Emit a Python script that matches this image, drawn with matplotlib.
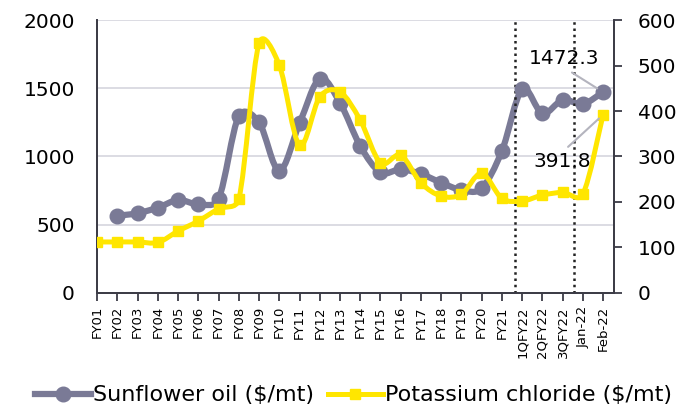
import numpy as np
import matplotlib.pyplot as plt
from matplotlib.path import Path
from matplotlib.patches import PathPatch
from matplotlib.lines import Line2D

plt.rcParams['font.family'] = ['DejaVu Sans']

# data
labels = ["FY01", "FY02", "FY03", "FY04", "FY05", "FY06", "FY07", "FY08", "FY09", "FY10",
          "FY11", "FY12", "FY13", "FY14", "FY15", "FY16", "FY17", "FY18", "FY19", "FY20",
          "FY21", "1QFY22", "2QFY22", "3QFY22", "Jan-22", "Feb-22"]
sunflower = [np.nan, 566, 584, 625, 681, 650, 689, 1297, 1250, 896,
             1243, 1570, 1394, 1077, 884, 906, 872, 808, 755, 767,
             1040, 1492, 1316, 1414, 1385, 1472.3]
potash = [112, 112, 112, 111, 136, 158, 185, 206, 549, 501,
          325, 431, 442, 380, 286, 303, 242, 213, 217, 263,
          208, 202, 215, 221, 217, 391.8]

GRAY = "#7a7a96"
YELLOW = "#ffe600"


def smooth_patch(x, y, color, lw, ax):
    # smoothed line drawn as a cubic bezier path through the data points
    # (catmull-rom style, control arms capped at half the segment, in pixels)
    pts = ax.transData.transform(np.column_stack([x, y]))
    n = len(pts)
    verts = [pts[0]]
    codes = [Path.MOVETO]
    for i in range(n - 1):
        p0 = pts[i - 1] if i > 0 else pts[i]
        p1 = pts[i]
        p2 = pts[i + 1]
        p3 = pts[i + 2] if i + 2 < n else pts[i + 1]
        seg = np.hypot(*(p2 - p1))
        d02 = np.hypot(*(p2 - p0))
        d13 = np.hypot(*(p3 - p1))
        f1 = min(1 / 6, 0.5 * seg / d02) if d02 > 0 else 0
        f2 = min(1 / 6, 0.5 * seg / d13) if d13 > 0 else 0
        verts += [p1 + (p2 - p0) * f1, p2 - (p3 - p1) * f2, p2]
        codes += [Path.CURVE4] * 3
    verts = ax.transData.inverted().transform(np.array(verts))
    patch = PathPatch(Path(verts, codes), facecolor="none", edgecolor=color,
                      lw=lw, capstyle="round", joinstyle="round")
    ax.add_patch(patch)


fig = plt.figure(figsize=(6.94, 4.19), dpi=100)
ax = fig.add_axes([0.14, 0.301, 0.745, 0.651])
ax2 = ax.twinx()

x = np.arange(len(labels))
sf = np.array(sunflower, float)
ok = ~np.isnan(sf)

ax.set_xlim(0, 25.55)
ax.set_ylim(0, 2000)
ax2.set_ylim(0, 600)

smooth_patch(x[ok], sf[ok], GRAY, 4.5, ax)
ax.plot(x[ok], sf[ok], "o", color=GRAY, ms=10.5, zorder=3)

smooth_patch(x, potash, YELLOW, 3.6, ax2)
ax2.plot(x, potash, "s", color=YELLOW, ms=6.5, zorder=3)

ax.set_yticks([0, 500, 1000, 1500, 2000])
ax2.set_yticks([0, 100, 200, 300, 400, 500, 600])
ax.set_xticks(x)
ax.set_xticklabels(labels, rotation=90, fontsize=9.5)

ax.grid(axis="y", color="#d9d9e1", lw=1.3)
ax.set_axisbelow(True)

for a in (ax, ax2):
    a.spines["top"].set_visible(False)
    for s in ("left", "right", "bottom"):
        a.spines[s].set_color("#3c3c46")
        a.spines[s].set_linewidth(1.3)
    a.tick_params(axis="y", labelsize=14.5, color="#3c3c46", width=1.3, length=6)
    a.tick_params(axis="x", color="#3c3c46", width=1.3, length=6)
ax.tick_params(axis="y", length=0, pad=16)
ax2.tick_params(axis="y", pad=11)

# period separators
for xv in (20.65, 23.57):
    ax.axvline(xv, color="#222222", ls=(0, (1, 1.5)), lw=1.8)

# end value labels
ax.annotate(f"{sunflower[-1]:.1f}", xy=(x[-1], sunflower[-1]), xytext=(23.07, 1722),
            ha="center", va="center", fontsize=14.5,
            arrowprops=dict(arrowstyle="-", color="#b4b4be", lw=1.5, relpos=(0.5, 0),
                            shrinkA=3, shrinkB=5))
ax2.annotate(f"{potash[-1]:.1f}", xy=(x[-1], potash[-1]), xytext=(22.97, 288),
             ha="center", va="center", fontsize=14.5,
             arrowprops=dict(arrowstyle="-", color="#b4b4be", lw=1.5, relpos=(0.5, 1),
                             shrinkA=3, shrinkB=4))

handles = [Line2D([], [], color=GRAY, lw=4.5, marker="o", ms=10.5),
           Line2D([], [], color=YELLOW, lw=3.6, marker="s", ms=6.5)]
fig.legend(handles, ["Sunflower oil ($/mt)", "Potassium chloride ($/mt)"],
           loc="lower center", bbox_to_anchor=(0.51, -0.015), ncol=2, frameon=False,
           fontsize=16, handlelength=2.5, handletextpad=0.1, columnspacing=0.6)

fig.savefig("out.png", dpi=100)
